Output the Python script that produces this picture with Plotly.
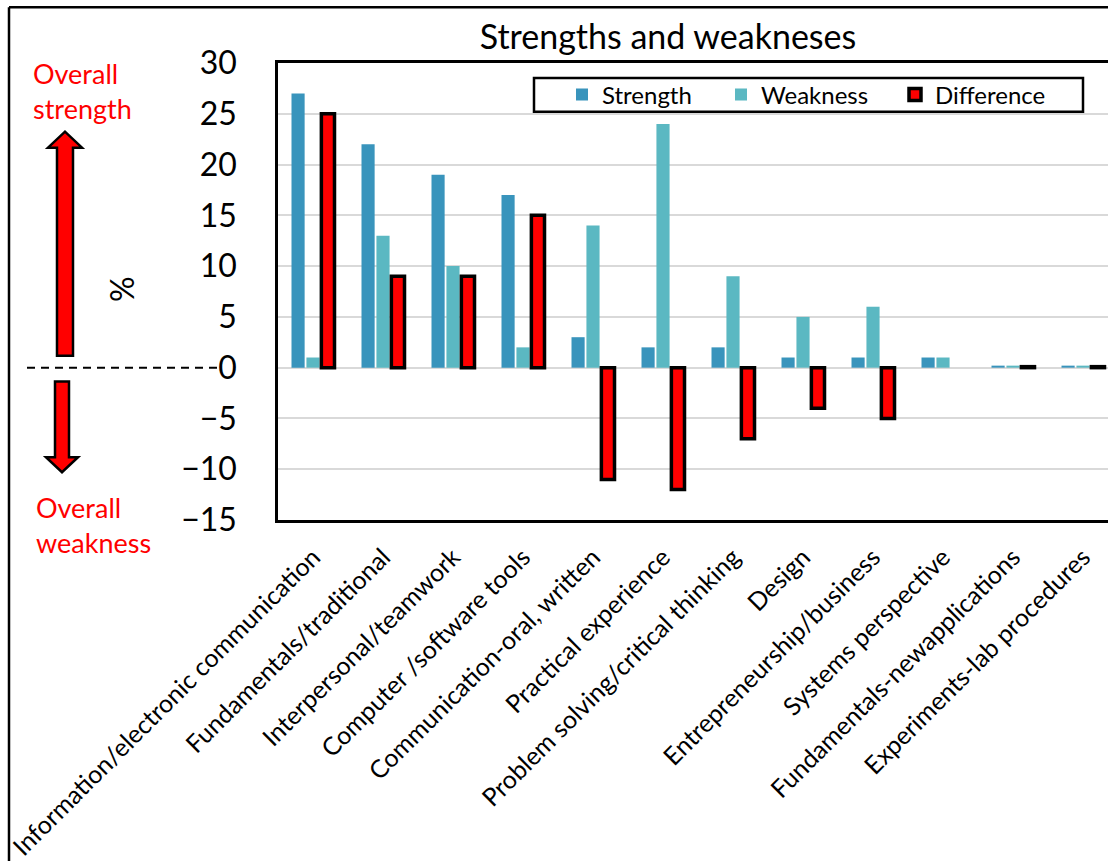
import plotly.graph_objects as go

# Survey categories and percentages
categories = [
    "Information/electronic communication",
    "Fundamentals/traditional",
    "Interpersonal/teamwork",
    "Computer /software tools",
    "Communication-oral, written",
    "Practical experience",
    "Problem solving/critical thinking",
    "Design",
    "Entrepreneurship/business",
    "Systems perspective",
    "Fundamentals-newapplications",
    "Experiments-lab procedures",
]
strength = [27, 22, 19, 17, 3, 2, 2, 1, 1, 1, 0.2, 0.2]
weakness = [1, 13, 10, 2, 14, 24, 9, 5, 6, 1, 0.2, 0.2]
difference = [25, 9, 9, 15, -11, -12, -7, -4, -5, None, 0.1, 0.1]
y_ticks = [-15, -10, -5, 0, 5, 10, 15, 20, 25, 30]

# Canvas and plot-area geometry (pixels)
W, H = 1108, 861
ML, MR, MT, MB = 278, 0, 63, 339
PW, PH = W - ML - MR, H - MT - MB

FONT = "Lato"
RED = "#FF0000"


def px(x):
    return (x - ML) / PW


def py(y):
    return (H - MB - y) / PH


def path(points):
    return "M " + " L ".join(f"{px(x):.5f},{py(y):.5f}" for x, y in points) + " Z"


fig = go.Figure()
fig.add_trace(go.Bar(name="Strength", x=categories, y=strength,
                     marker=dict(color="#3994BC", line=dict(width=0)),
                     legendwidth=114))
fig.add_trace(go.Bar(name="Weakness", x=categories, y=weakness,
                     marker=dict(color="#5BB8C2", line=dict(width=0)),
                     legendwidth=129))
fig.add_trace(go.Bar(name="Difference", x=categories, y=difference,
                     marker=dict(color=RED, line=dict(color="black", width=3.5)),
                     legendwidth=110))

up_arrow = [(57, 357), (57, 148), (48, 148), (65, 132), (82, 148), (73, 148), (73, 357)]
down_arrow = [(55, 383), (69, 383), (69, 459), (78, 459), (62, 474), (46, 459), (55, 459)]

shapes = [
    # outer frame (left and top edges)
    dict(type="line", xref="paper", yref="paper", x0=px(9), x1=px(9), y0=py(7), y1=py(870),
         line=dict(color="black", width=2.5)),
    dict(type="line", xref="paper", yref="paper", x0=px(9), x1=px(1120), y0=py(7), y1=py(7),
         line=dict(color="black", width=2.5)),
    # dashed zero guide left of the axis
    dict(type="line", xref="paper", yref="y", x0=px(27), x1=px(222), y0=0, y1=0,
         line=dict(color="black", width=2, dash="8px,6px")),
    # direction arrows
    dict(type="path", xref="paper", yref="paper", path=path(up_arrow),
         fillcolor=RED, line=dict(color="black", width=2.5)),
    dict(type="path", xref="paper", yref="paper", path=path(down_arrow),
         fillcolor=RED, line=dict(color="black", width=2.5)),
    # legend frame
    dict(type="rect", xref="paper", yref="paper", x0=px(534), x1=px(1083), y0=py(112), y1=py(78),
         fillcolor="white", line=dict(color="black", width=2.5), layer="above"),
]

annotations = [
    dict(text="Overall<br>strength", xref="paper", yref="paper", x=px(31), y=py(55),
         xanchor="left", yanchor="top", align="left", showarrow=False,
         font=dict(family=FONT, size=27, color=RED)),
    dict(text="Overall<br>weakness", xref="paper", yref="paper", x=px(34), y=py(491),
         xanchor="left", yanchor="top", align="left", showarrow=False,
         font=dict(family=FONT, size=27, color=RED)),
    dict(text="%", xref="paper", yref="paper", x=px(121), y=py(290), textangle=-90,
         xanchor="center", yanchor="middle", showarrow=False,
         font=dict(family=FONT, size=32, color="black")),
]

fig.update_layout(
    width=W, height=H, autosize=False,
    margin=dict(l=ML, r=MR, t=MT, b=MB, pad=0),
    paper_bgcolor="white", plot_bgcolor="white",
    barmode="group", bargap=0.36, bargroupgap=0.12,
    title=dict(text="Strengths and weakneses", xref="container", yref="container",
               x=668 / W, y=1 - 37 / H, xanchor="center", yanchor="middle",
               font=dict(family=FONT, size=34, color="black")),
    legend=dict(orientation="h", xref="paper", yref="paper", x=px(562), y=py(95),
                xanchor="left", yanchor="middle", bgcolor="rgba(0,0,0,0)", borderwidth=0,
                font=dict(family=FONT, size=24, color="black"), itemclick=False),
    shapes=shapes,
    annotations=annotations,
    font=dict(family=FONT, color="black"),
)

fig.update_xaxes(type="category", range=[-0.5, 11.357], showgrid=False, zeroline=False,
                 showline=True, mirror=True, linecolor="black", linewidth=2.5,
                 ticks="", tickangle=-45, ticklabelstandoff=10,
                 tickfont=dict(family=FONT, size=25, color="black"))
fig.update_yaxes(range=[-15, 30], tickvals=y_ticks, showgrid=True, gridcolor="#D9D9D9",
                 gridwidth=2, zeroline=True, zerolinecolor="#D9D9D9", zerolinewidth=2,
                 showline=True, mirror=False, linecolor="black", linewidth=2.5,
                 ticks="", ticklabelstandoff=32,
                 tickfont=dict(family=FONT, size=32, color="black"))

fig.write_html("out.html")
